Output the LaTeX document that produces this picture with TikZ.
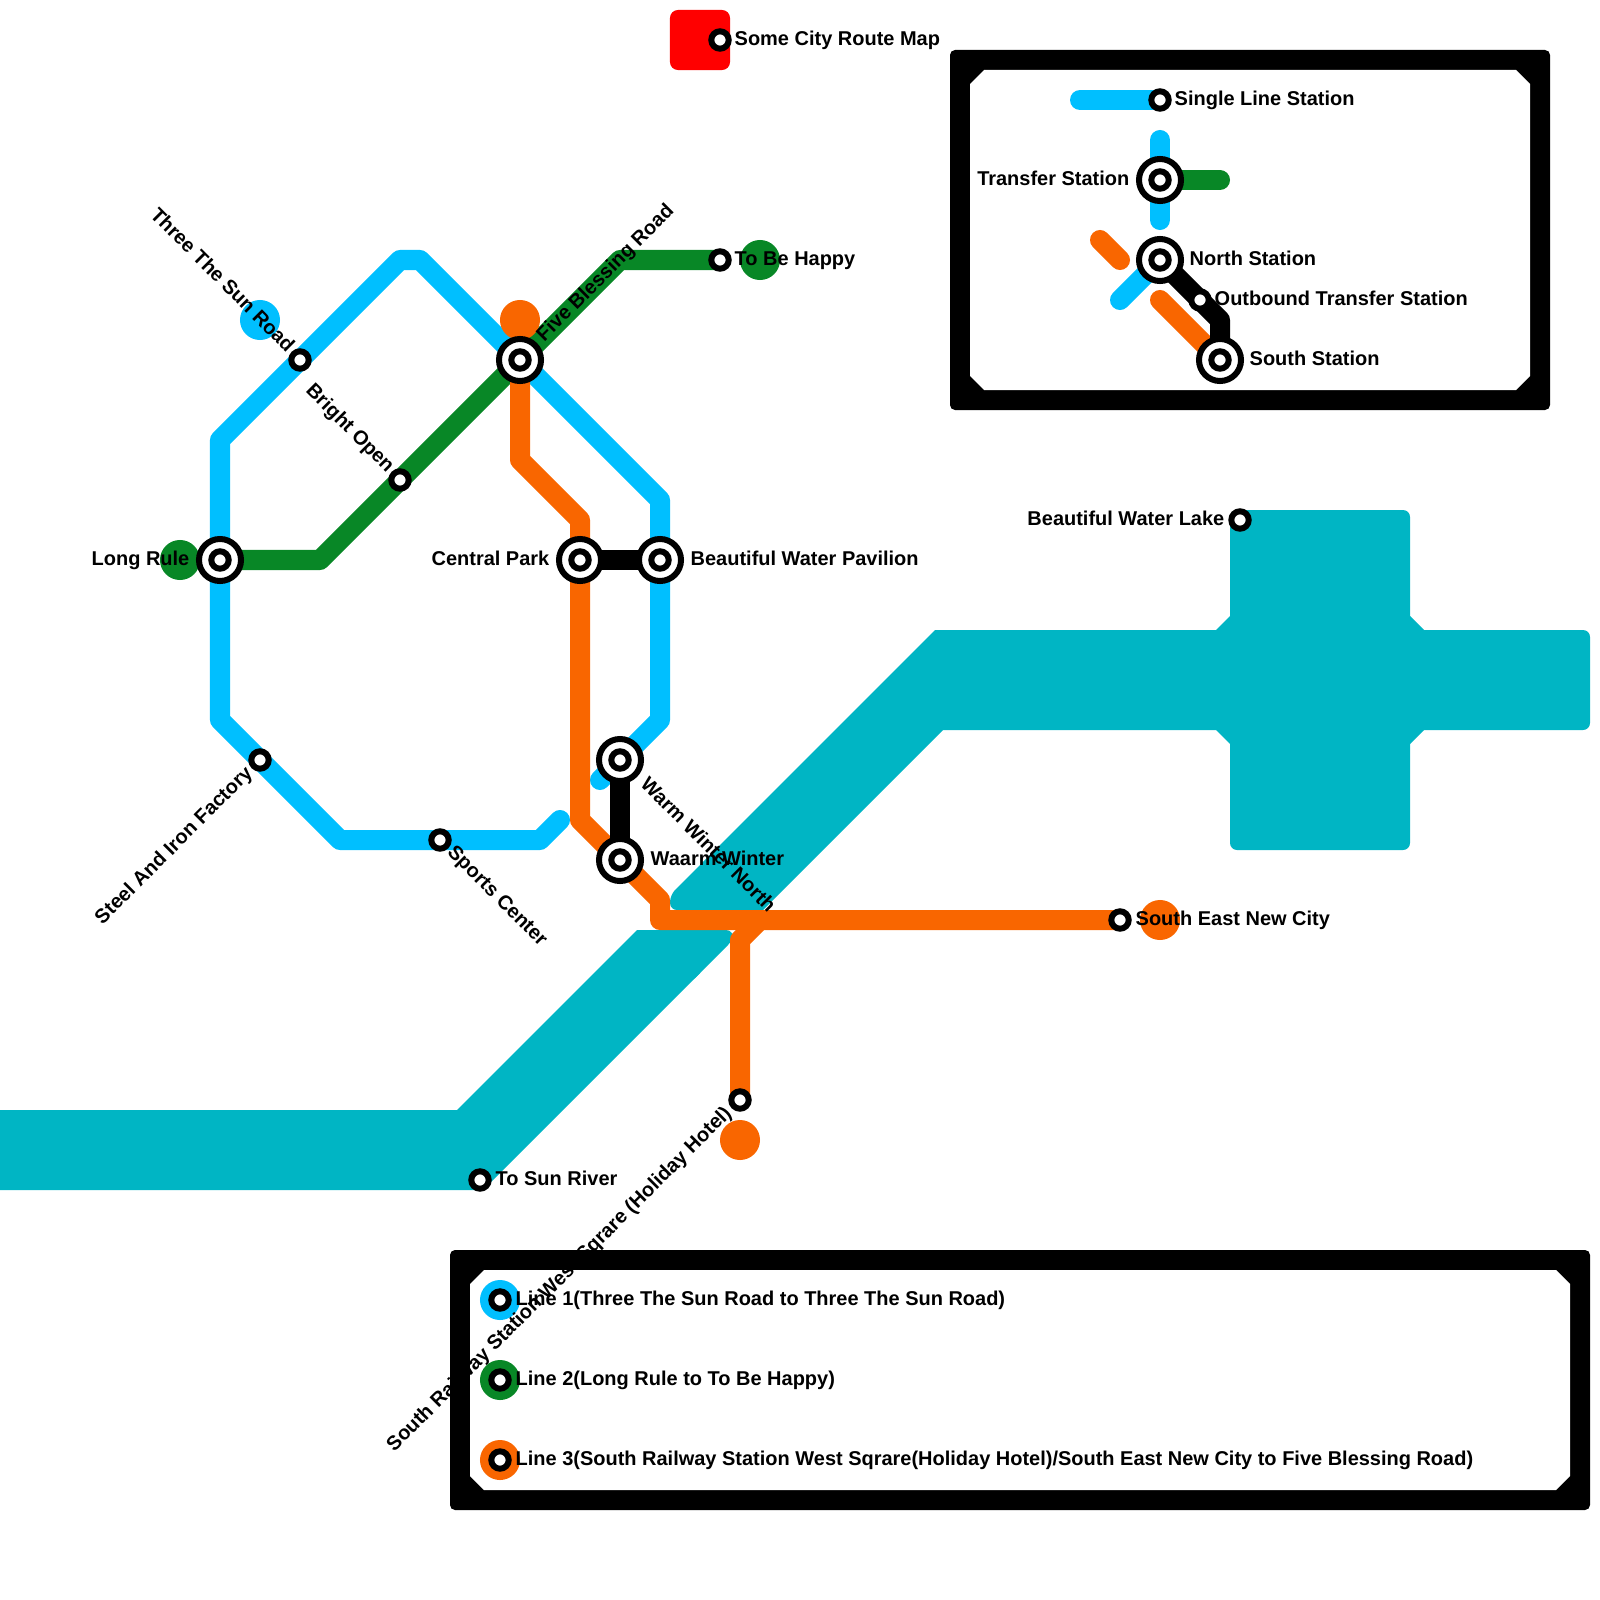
\documentclass[tikz,border=0pt]{standalone}
\usepackage{fontspec}
\setmainfont{Liberation Sans}
\definecolor{lineblue}{RGB}{0,191,255}
\definecolor{linegreen}{RGB}{8,135,38}
\definecolor{lineorange}{RGB}{249,102,0}
\definecolor{riverteal}{RGB}{0,181,196}
\definecolor{titlered}{RGB}{255,0,0}

\begin{document}
\begin{tikzpicture}[
    x=0.01cm, y=-0.01cm,
    metro/.style={line width=0.2cm, line cap=round, line join=round},
    river/.style={fill=riverteal, rounded corners=0.07cm},
    endmark/.style={circle, minimum size=0.4cm, inner sep=0pt},
    smallstn/.style={circle, draw=black, fill=white, line width=0.06cm,
        minimum size=0.174cm, inner sep=0pt},
    bigstn/.style={circle, draw=black, fill=white, line width=0.06cm,
        minimum size=0.42cm, inner sep=0pt,
        path picture={\draw[black, line width=0.06cm]
            (path picture bounding box.center) circle (0.087cm);}},
    stnlabel/.style={font=\fontsize{5.68}{6.5}\selectfont\bfseries, text=black,
        inner sep=0pt, text height=0.15cm, text depth=0.04cm}
]
\useasboundingbox (0,0) rectangle (1600,1600);

% Water
\fill[riverteal] (-6,1110) -- (457,1110) -- (637,930) -- (700,930) -- (700,973) -- (483,1190) -- (-6,1190) -- cycle;
\fill[river] (680,930) -- (733,930) -- (733,940) -- (690,983) -- cycle;
\fill[riverteal] (935,630) -- (1300,630) -- (1300,730) -- (943,730) -- (763,910) -- (700,910) -- (700,865) -- cycle;
\fill[river] (720,845) -- (670,895) -- (670,910) -- (720,910) -- cycle;
\fill[river] (1300,630) rectangle (1590,730);
\fill[river] (1230,510) rectangle (1410,850);
\fill[riverteal] (1216,630) -- (1230,616) -- (1410,616) -- (1424,630) -- (1424,730)
    -- (1410,744) -- (1230,744) -- (1216,730) -- cycle;

% Title
\node[fill=titlered, rounded corners=0.08cm, minimum width=0.6cm, minimum height=0.6cm,
    inner sep=0pt] (titlebox) at (700,40) {};

% Upper legend
\fill[black, rounded corners=0.05cm] (950,50) rectangle (1550,410);
\fill[white] (984,70) -- (1516,70) -- (1530,84) -- (1530,376) -- (1516,390)
    -- (984,390) -- (970,376) -- (970,84) -- cycle;

% Lower legend
\fill[black, rounded corners=0.05cm] (450,1250) rectangle (1590,1510);
\fill[white] (484,1270) -- (1556,1270) -- (1570,1284) -- (1570,1476) -- (1556,1490)
    -- (484,1490) -- (470,1476) -- (470,1284) -- cycle;
\node[endmark, fill=lineblue] (keyone) at (500,1300) {};
\node[endmark, fill=linegreen] (keytwo) at (500,1380) {};
\node[endmark, fill=lineorange] (keythree) at (500,1460) {};

% Stations
\coordinate (threesun) at (300,360);
\coordinate (longrule) at (220,560);
\coordinate (brightopen) at (400,480);
\coordinate (fiveblessing) at (520,360);
\coordinate (centralpark) at (580,560);
\coordinate (waterpavilion) at (660,560);
\coordinate (winternorth) at (620,760);
\coordinate (warmwinter) at (620,860);
\coordinate (steeliron) at (260,760);
\coordinate (sportscenter) at (440,840);
\coordinate (tobehappy) at (720,260);
\coordinate (southeast) at (1120,920);
\coordinate (southrail) at (740,1100);
\coordinate (blueenda) at (600,780);
\coordinate (blueendb) at (560,820);

% Line 1
\node[endmark, fill=lineblue] (endone) at (260,320) {};
\draw[metro, lineblue] (blueenda) -- (winternorth) -- (660,720) -- (660,500) -- (fiveblessing)
    -- (420,260) -- (400,260) -- (threesun) -- (220,440) -- (longrule) -- (220,720)
    -- (steeliron) -- (340,840) -- (sportscenter) -- (540,840) -- (blueendb);

% Line 2
\node[endmark, fill=linegreen] (endtwoa) at (180,560) {};
\node[endmark, fill=linegreen] (endtwob) at (760,260) {};
\draw[metro, linegreen] (longrule) -- (320,560) -- (brightopen) -- (fiveblessing)
    -- (620,260) -- (tobehappy);

% Line 3
\node[endmark, fill=lineorange] (endthreea) at (520,320) {};
\node[endmark, fill=lineorange] (endthreeb) at (1160,920) {};
\node[endmark, fill=lineorange] (endthreec) at (740,1140) {};
\draw[metro, lineorange] (fiveblessing) -- (520,460) -- (580,520) -- (centralpark) -- (580,820)
    -- (warmwinter) -- (660,900) -- (660,920) -- (southeast);
\draw[metro, lineorange] (760,920) -- (740,940) -- (southrail);

% Transfers
\draw[metro, black] (centralpark) -- (waterpavilion);
\draw[metro, black] (winternorth) -- (warmwinter);

% Key samples
\coordinate (keysingle) at (1160,100);
\coordinate (keytransfer) at (1160,180);
\coordinate (keynorth) at (1160,260);
\coordinate (keyoutbound) at (1200,300);
\coordinate (keysouth) at (1220,360);
\draw[metro, lineblue] (1080,100) -- (keysingle);
\draw[metro, lineblue] (1160,140) -- (1160,220);
\draw[metro, linegreen] (keytransfer) -- (1220,180);
\draw[metro, lineorange] (1100,240) -- (1120,260);
\draw[metro, lineblue] (1120,300) -- (keynorth);
\draw[metro, lineorange] (1160,300) -- (keysouth);
\draw[metro, black] (keynorth) -- (keyoutbound) -- (1220,320) -- (keysouth);

% Station markers
\node[smallstn] (stntitle) at (720,40) {};
\node[smallstn] (stnthreesun) at (threesun) {};
\node[smallstn] (stnbright) at (brightopen) {};
\node[smallstn] (stnsteel) at (steeliron) {};
\node[smallstn] (stnsports) at (sportscenter) {};
\node[smallstn] (stnhappy) at (tobehappy) {};
\node[smallstn] (stnseast) at (southeast) {};
\node[smallstn] (stnsrail) at (southrail) {};
\node[smallstn] (stnsunriver) at (480,1180) {};
\node[smallstn] (stnlake) at (1240,520) {};
\node[bigstn] (stnlong) at (longrule) {};
\node[bigstn] (stnfive) at (fiveblessing) {};
\node[bigstn] (stncentral) at (centralpark) {};
\node[bigstn] (stnwater) at (waterpavilion) {};
\node[bigstn] (stnnorth) at (winternorth) {};
\node[bigstn] (stnwarm) at (warmwinter) {};
\node[smallstn] (stnkeysingle) at (keysingle) {};
\node[bigstn] (stnkeytransfer) at (keytransfer) {};
\node[bigstn] (stnkeynorth) at (keynorth) {};
\node[smallstn] (stnkeyout) at (keyoutbound) {};
\node[bigstn] (stnkeysouth) at (keysouth) {};
\node[smallstn] (stnkeyone) at (keyone) {};
\node[smallstn] (stnkeytwo) at (keytwo) {};
\node[smallstn] (stnkeythree) at (keythree) {};

% Labels
\node[stnlabel, anchor=west] (lbltitle) at (734,40) {Some City Route Map};
\node[stnlabel, anchor=west] (lblhappy) at (734,260) {To Be Happy};
\node[stnlabel, anchor=east, rotate=-45] (lblthree) at (291,350) {Three The Sun Road};
\node[stnlabel, anchor=east, rotate=-45] (lblbright) at (391,470) {Bright Open};
\node[stnlabel, anchor=west, rotate=45] (lblfive) at (540,339) {Five Blessing Road};
\node[stnlabel, anchor=east] (lbllong) at (190,560) {Long Rule};
\node[stnlabel, anchor=east] (lblcentral) at (550,560) {Central Park};
\node[stnlabel, anchor=west] (lblwater) at (690,560) {Beautiful Water Pavilion};
\node[stnlabel, anchor=east, rotate=45] (lblsteel) at (250,770) {Steel And Iron Factory};
\node[stnlabel, anchor=west, rotate=-45] (lblsports) at (450,849) {Sports Center};
\node[stnlabel, anchor=west, rotate=-45] (lblnorth) at (643,781) {Warm Winter North};
\node[stnlabel, anchor=west] (lblwarm) at (650,860) {Waarm Winter};
\node[stnlabel, anchor=west] (lblseast) at (1135,920) {South East New City};
\node[stnlabel, anchor=east, rotate=45] (lblsrail) at (729,1110) {South Railway Station West Sqrare (Holiday Hotel)};
\node[stnlabel, anchor=west] (lblsunriver) at (495,1180) {To Sun River};
\node[stnlabel, anchor=east] (lbllake) at (1225,520) {Beautiful Water Lake};
\node[stnlabel, anchor=west] (lblkeysingle) at (1174,100) {Single Line Station};
\node[stnlabel, anchor=east] (lblkeytransfer) at (1130,180) {Transfer Station};
\node[stnlabel, anchor=west] (lblkeynorth) at (1189,260) {North Station};
\node[stnlabel, anchor=west] (lblkeyout) at (1214,300) {Outbound Transfer Station};
\node[stnlabel, anchor=west] (lblkeysouth) at (1249,360) {South Station};
\node[stnlabel, anchor=west] (lblkeyone) at (515,1300) {Line 1(Three The Sun Road to Three The Sun Road)};
\node[stnlabel, anchor=west] (lblkeytwo) at (515,1380) {Line 2(Long Rule to To Be Happy)};
\node[stnlabel, anchor=west] (lblkeythree) at (515,1460) {Line 3(South Railway Station West Sqrare(Holiday Hotel)/South East New City to Five Blessing Road)};

\end{tikzpicture}
\end{document}
